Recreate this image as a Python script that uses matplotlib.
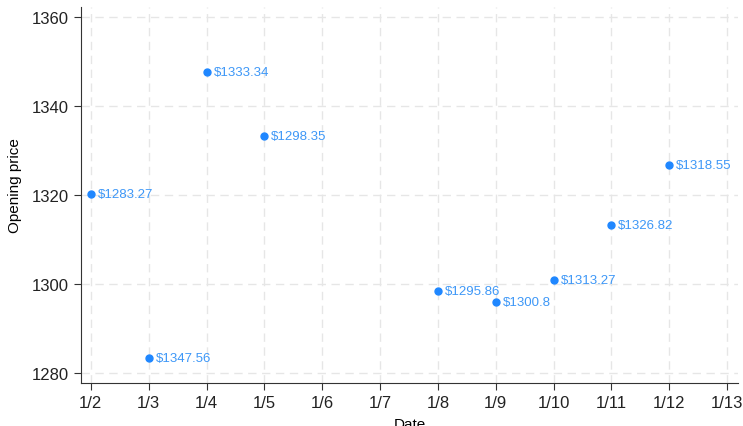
import matplotlib
matplotlib.use('Agg')
import matplotlib.pyplot as plt

# data
days = [2, 3, 4, 5, 8, 9, 10, 11, 12]
opening = [1320.2, 1283.27, 1347.56, 1333.34, 1298.35, 1295.86, 1300.8, 1313.27, 1326.82]
labels = [1283.27, 1347.56, 1333.34, 1298.35, 1295.86, 1300.8, 1313.27, 1326.82, 1318.55]
tick_days = list(range(2, 14))
tick_labels = ['1/%d' % d for d in tick_days]

plt.rcParams['font.family'] = ['Liberation Sans', 'DejaVu Sans']

fig = plt.figure(figsize=(7.43, 4.27), dpi=100)
ax = fig.add_axes([81/743, 43/427, 657/743, 376/427])

ax.plot(days, opening, 'o', color='#1f87ff', markersize=5, zorder=3)
for d, v, lab in zip(days, opening, labels):
    ax.annotate('$%g' % lab, (d, v), xytext=(5, 0), textcoords='offset points',
                va='center', ha='left', fontsize=9.5, color='#3d97f7')

ax.set_xlim(1.83, 13.19)
ax.set_ylim(1277.75, 1362.25)
ax.set_xticks(tick_days)
ax.set_xticklabels(tick_labels)
ax.set_yticks([1280, 1300, 1320, 1340, 1360])
ax.tick_params(labelsize=12, length=5, color='#333333', labelcolor='#222222')
ax.grid(True, linestyle=(0, (6, 4)), color='#e6e6e6', linewidth=1)
ax.set_axisbelow(True)
for s in ['top', 'right']:
    ax.spines[s].set_visible(False)
for s in ['left', 'bottom']:
    ax.spines[s].set_color('#333333')

ax.set_xlabel('Date', fontsize=11, labelpad=5)
ax.set_ylabel('Opening price', fontsize=11)
ax.yaxis.set_label_coords(-0.09, 0.527)

fig.savefig('out.png', dpi=100)
